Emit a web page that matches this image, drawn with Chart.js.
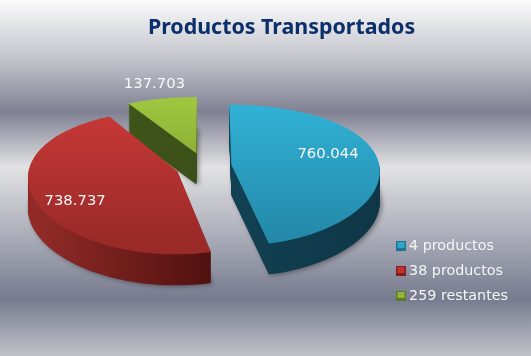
<!DOCTYPE html>
<html>
<head>
<meta charset="utf-8">
<title>Productos Transportados</title>
<script src="https://cdn.jsdelivr.net/npm/chart.js@4"></script>
<style>
html, body { margin: 0; padding: 0; background: #fff; }
#wrap { width: 531px; height: 356px; }
canvas { display: block; }
</style>
</head>
<body>
<div id="wrap"><canvas id="pieChart" width="531" height="356"></canvas></div>
<script>
const categories = ['4 productos', '38 productos', '259 restantes'];
const values = [760044, 738737, 137703];
const valueLabels = ['760.044', '738.737', '137.703'];

const topColorsFrom = ['#31b2d6', '#ca3a38', '#9dc53e'];
const topColorsTo = ['#2488a8', '#9a2a28', '#6f8e2b'];
const wallColorsFrom = ['#14495c', '#8f2a27', '#3f5419'];
const wallColorsTo = ['#0e3646', '#4c0f0d', '#33451a'];
const legendColors = ['#2fa6c8', '#bf3331', '#93b53a'];
const legendEdges = ['#1d7390', '#7f1f1e', '#5f7a24'];

// fake 3D: flatten the pie and make the front a little bigger
const TILT = 0.48;
const PERSPECTIVE_X = 0.08;
const PERSPECTIVE_Y = 0.15;
const DEPTH = 31;
const SHIFT_X = -12;
const SHIFT_Y = -16.2;
const LABEL_POS = [0.663, 0.72, 1.24];
const LABEL_NUDGE_Y = [-5.5, 10, -4];

function project(arc, dx, dy) {
    const v = dy / arc.outerRadius;
    return {
        x: arc.x + SHIFT_X + dx * (1 + PERSPECTIVE_X * v),
        y: arc.y + SHIFT_Y + dy * TILT * (1 + PERSPECTIVE_Y * v)
    };
}

function slicePath(ctx, arc, down) {
    const off = arc.options.offset || 0;
    const mid = (arc.startAngle + arc.endAngle) / 2;
    const ox = Math.cos(mid) * off;
    const oy = Math.sin(mid) * off;
    const r = arc.outerRadius;
    const apex = project(arc, ox, oy);

    ctx.beginPath();
    ctx.moveTo(apex.x, apex.y + down);
    const steps = 80;
    for (let i = 0; i <= steps; i++) {
        const a = arc.startAngle + (arc.endAngle - arc.startAngle) * i / steps;
        const p = project(arc, ox + Math.cos(a) * r, oy + Math.sin(a) * r);
        ctx.lineTo(p.x, p.y + down);
    }
    ctx.closePath();
}

const pie3d = {
    id: 'pie3d',
    beforeDraw(chart) {
        const ctx = chart.ctx;
        const g = ctx.createLinearGradient(0, 0, 0, chart.height);
        g.addColorStop(0, '#fbfbfb');
        g.addColorStop(0.17, '#c0c2ca');
        g.addColorStop(0.315, '#7f8193');
        g.addColorStop(0.47, '#e2e2e4');
        g.addColorStop(0.84, '#777b8f');
        g.addColorStop(1, '#c0c2c8');
        ctx.fillStyle = g;
        ctx.fillRect(0, 0, chart.width, chart.height);
    },
    beforeDatasetDraw(chart, args) {
        const ctx = chart.ctx;
        const arcs = args.meta.data;
        // back slices first so the nearer ones sit on top
        const order = [2, 0, 1];

        order.forEach(i => {
            const arc = arcs[i];
            const r = arc.outerRadius;
            const left = arc.x + SHIFT_X - r * 1.2;
            const right = arc.x + SHIFT_X + r * 1.2;
            const wall = ctx.createLinearGradient(left, 0, right, 0);
            wall.addColorStop(i === 1 ? 0.05 : 0.3, wallColorsFrom[i]);
            wall.addColorStop(i === 1 ? 0.55 : 1, wallColorsTo[i]);

            ctx.save();
            ctx.shadowColor = 'rgba(0,0,0,0.4)';
            ctx.shadowBlur = 5;
            ctx.shadowOffsetX = 2;
            ctx.shadowOffsetY = 1;
            ctx.fillStyle = wall;
            slicePath(ctx, arc, DEPTH);
            ctx.fill();
            ctx.restore();

            ctx.fillStyle = wall;
            for (let d = DEPTH - 1; d > 0; d--) {
                slicePath(ctx, arc, d);
                ctx.fill();
            }

            const apexY = arc.y + SHIFT_Y;
            const top = ctx.createLinearGradient(0, apexY - r * 0.42, 0, apexY + r * 0.5);
            top.addColorStop(0, topColorsFrom[i]);
            top.addColorStop(1, topColorsTo[i]);
            ctx.fillStyle = top;
            slicePath(ctx, arc, 0);
            ctx.fill();
        });
        return false;
    },
    afterDatasetsDraw(chart) {
        const ctx = chart.ctx;
        const arcs = chart.getDatasetMeta(0).data;
        ctx.save();
        ctx.font = '14.8px "DejaVu Sans"';
        ctx.fillStyle = '#f8f8f8';
        ctx.textAlign = 'center';
        ctx.textBaseline = 'middle';
        arcs.forEach((arc, i) => {
            const mid = (arc.startAngle + arc.endAngle) / 2;
            const off = arc.options.offset || 0;
            const dist = off + arc.outerRadius * LABEL_POS[i];
            const p = project(arc, Math.cos(mid) * dist, Math.sin(mid) * dist);
            ctx.fillText(valueLabels[i], p.x, p.y + LABEL_NUDGE_Y[i]);
        });
        ctx.restore();
    },
    afterDraw(chart) {
        // small bevelled legend keys, closer to the text than the stock ones
        const ctx = chart.ctx;
        chart.legend.legendHitBoxes.forEach((box, i) => {
            const x = Math.round(box.left) - 1;
            const y = Math.round(box.top + box.height / 2 - 5);
            ctx.fillStyle = legendEdges[i];
            ctx.fillRect(x, y, 10, 10);
            ctx.fillStyle = legendColors[i];
            ctx.fillRect(x + 1.5, y + 1, 7, 6);
        });
    }
};

new Chart(document.getElementById('pieChart').getContext('2d'), {
    type: 'pie',
    data: {
        labels: categories,
        datasets: [{
            data: values,
            backgroundColor: 'rgba(0,0,0,0)',
            borderWidth: 0,
            offset: 28
        }]
    },
    options: {
        responsive: false,
        animation: false,
        radius: 148,
        layout: {
            padding: { left: 45, right: 13, top: 0, bottom: 42 }
        },
        plugins: {
            title: {
                display: true,
                text: 'Productos Transportados',
                color: '#0b2f6b',
                font: { family: '"Noto Sans"', size: 21.4, weight: 'bold' },
                padding: { top: 15, bottom: 10 }
            },
            legend: {
                position: 'right',
                align: 'end',
                labels: {
                    color: '#f6f6f6',
                    font: { family: '"DejaVu Sans"', size: 14.3 },
                    boxWidth: 5,
                    boxHeight: 10,
                    padding: 10.7
                }
            },
            tooltip: { enabled: false }
        }
    },
    plugins: [pie3d]
});
</script>
</body>
</html>
